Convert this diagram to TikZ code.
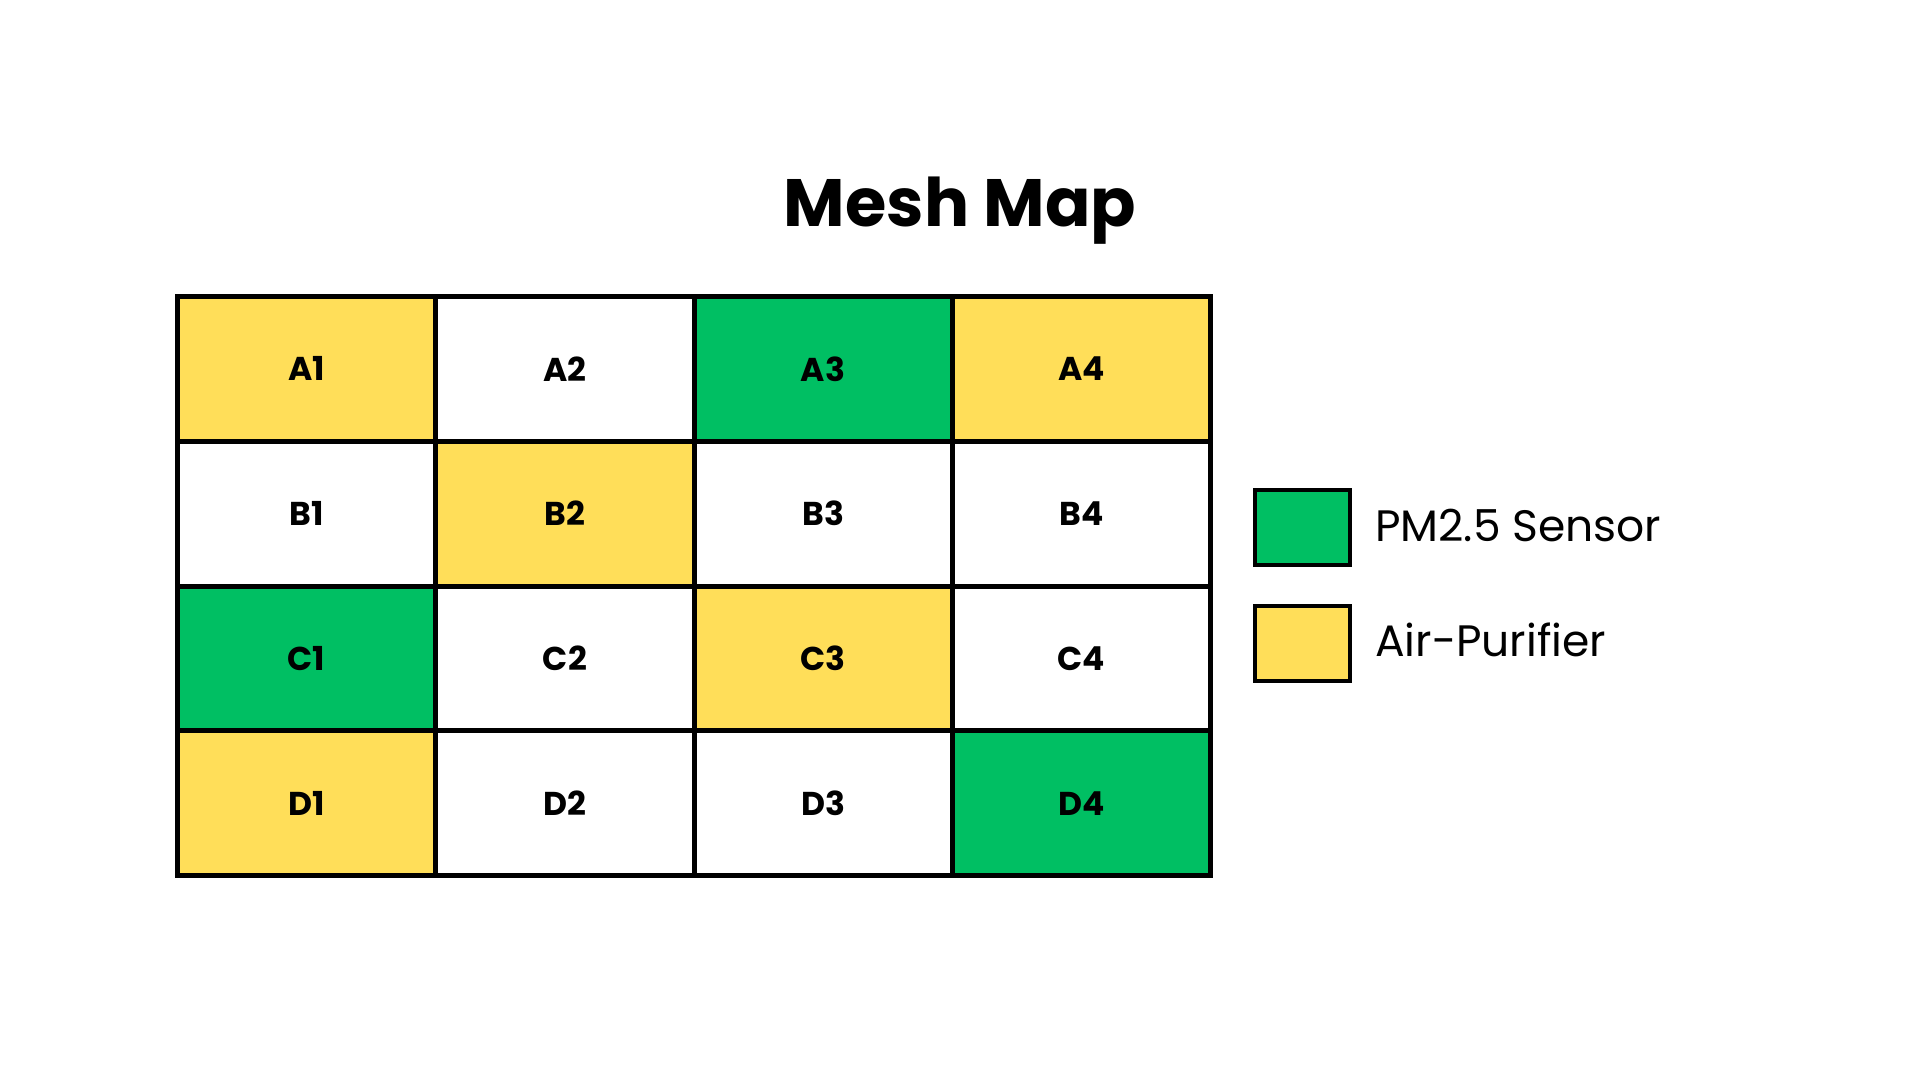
\documentclass[tikz,border=0pt]{standalone}
\usepackage{fontspec}
\setmainfont{Poppins}
\definecolor{ygold}{HTML}{FFDE59}
\definecolor{sgreen}{HTML}{00BF63}
\begin{document}
\begin{tikzpicture}[x=1pt,y=-1pt,
  cell/.style={draw=black,line width=5pt,minimum width=258.25pt,minimum height=144.75pt,inner sep=0pt,font=\fontsize{33}{33}\selectfont\bfseries},
  lbox/.style={draw=black,line width=3.3pt,minimum width=95pt,minimum height=75pt,inner sep=0pt},
  ltext/.style={anchor=base west,inner sep=0pt,font=\fontsize{44}{44}\selectfont}]
\useasboundingbox (0,0) rectangle (1920,1080);
\node[font=\fontsize{67}{67}\selectfont\bfseries,anchor=base,inner sep=0pt] (title) at (960,226) {Mesh Map};
% grid: left 177.5, top 296.5, cell 258.25 x 144.75
\foreach \r/\row in {0/A,1/B,2/C,3/D}{
  \foreach \c in {1,2,3,4}{
    \coordinate (p\row\c) at ({177.5+258.25*(\c-0.5)},{296.5+144.75*(\r+0.5)});
  }
}
\node[cell,fill=ygold] (A1) at (pA1) {A1};
\node[cell,fill=white] (A2) at (pA2) {A2};
\node[cell,fill=sgreen] (A3) at (pA3) {A3};
\node[cell,fill=ygold] (A4) at (pA4) {A4};
\node[cell,fill=white] (B1) at (pB1) {B1};
\node[cell,fill=ygold] (B2) at (pB2) {B2};
\node[cell,fill=white] (B3) at (pB3) {B3};
\node[cell,fill=white] (B4) at (pB4) {B4};
\node[cell,fill=sgreen] (C1) at (pC1) {C1};
\node[cell,fill=white] (C2) at (pC2) {C2};
\node[cell,fill=ygold] (C3) at (pC3) {C3};
\node[cell,fill=white] (C4) at (pC4) {C4};
\node[cell,fill=ygold] (D1) at (pD1) {D1};
\node[cell,fill=white] (D2) at (pD2) {D2};
\node[cell,fill=white] (D3) at (pD3) {D3};
\node[cell,fill=sgreen] (D4) at (pD4) {D4};
% legend
\node[lbox,fill=sgreen] (lg) at (1302.5,527.5) {};
\node[lbox,fill=ygold] (ly) at (1302.5,643.5) {};
\node[ltext] (tg) at (1375,541.5) {PM2.5 Sensor};
\node[ltext] (ty) at (1375,656.5) {Air-Purifier};
\end{tikzpicture}
\end{document}
